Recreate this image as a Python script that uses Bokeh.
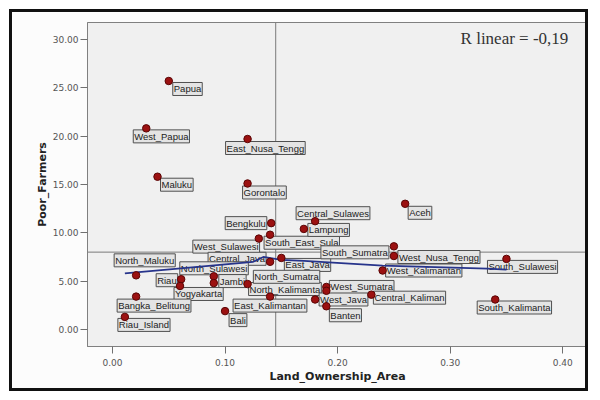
from bokeh.plotting import figure
from bokeh.models import Span, Label, FixedTicker, PrintfTickFormatter, Range1d
from bokeh.embed import file_html
from bokeh.resources import INLINE

# ---- data ----
provinces = [
    "Papua", "West_Papua", "East_Nusa_Tengg", "Maluku", "Gorontalo",
    "Bengkulu", "West_Sulawesi", "South_East_Sula", "Central_Java", "North_Maluku",
    "Riau", "Yogyakarta", "North_Sulawesi", "Jambi", "North_Kalimanta",
    "East_Kalimantan", "Bangka_Belitung", "Riau_Island", "Bali", "Central_Sulawes",
    "Lampung", "Aceh", "East_Java", "South_Sumatra", "West_Nusa_Tengg",
    "South_Sulawesi", "West_Kalimantan", "West_Sumatra", "North_Sumatra", "West_Java",
    "Banten", "Central_Kaliman", "South_Kalimanta",
]
land_ownership_area = [
    0.050, 0.030, 0.120, 0.040, 0.120,
    0.141, 0.130, 0.140, 0.140, 0.021,
    0.061, 0.060, 0.090, 0.090, 0.120,
    0.140, 0.021, 0.011, 0.100, 0.180,
    0.170, 0.260, 0.150, 0.250, 0.250,
    0.350, 0.240, 0.190, 0.190, 0.180,
    0.190, 0.230, 0.340,
]
poor_farmers = [
    25.7, 20.8, 19.7, 15.8, 15.1,
    11.0, 9.4, 9.8, 7.0, 5.6,
    5.2, 4.5, 5.5, 4.8, 4.7,
    3.4, 3.4, 1.3, 1.9, 11.2,
    10.4, 13.0, 7.4, 8.6, 7.6,
    7.3, 6.1, 4.4, 4.0, 3.1,
    2.4, 3.6, 3.1,
]
fit_x = [0.011, 0.078, 0.125, 0.134, 0.150, 0.170, 0.240, 0.333, 0.350]
fit_y = [5.8, 6.5, 7.0, 7.5, 7.2, 7.1, 6.6, 6.3, 6.2]
x_ticks = [0.0, 0.1, 0.2, 0.3, 0.4]
y_ticks = [0, 5, 10, 15, 20, 25, 30]
mean_land = 0.145
mean_poor = 8.0
r_linear_text = "R linear = -0,19"

# label placement (pixel offsets from each point)
label_dx = [4, -13, -22, 3, -5, -46, -66, -6, -62, -22, -25, -6, -34, 5, 1,
            -37, -19, -7, 4, -19, 4, 3, 3, -73, 4, -19, 3, 3, -73, 4, 3, 2, -18]
label_dy = [-8, -8, -9, -8, -9, 0, -8, -8, 3, 15, -1, -8, 8, 2, -5,
            -9, -9, -8, -9, 8, -1, -9, -7, -6, -1, -8, 0, 0, 14, 0, -9, -3, -8]

p = figure(width=579, height=382, output_backend="svg", toolbar_location=None,
           x_range=Range1d(-0.0222, 0.422), y_range=Range1d(-1.76, 31.75),
           min_border_left=75, min_border_right=4, min_border_top=10,
           min_border_bottom=48)
p.styles = {"border": "3px solid #111111", "margin-left": "9px", "margin-top": "9px"}
p.background_fill_color = "#f0f0f0"
p.border_fill_color = "#fcfcfc"
p.outline_line_color = "#808080"
p.outline_line_width = 1
p.xgrid.visible = False
p.ygrid.visible = False

for ax in (p.xaxis[0], p.yaxis[0]):
    ax.axis_line_color = "#808080"
    ax.major_tick_line_color = "#707070"
    ax.minor_tick_line_color = None
    ax.major_tick_in = 0
    ax.major_tick_out = 7
    ax.major_label_text_font = "DejaVu Sans"
    ax.major_label_text_font_size = "9px"
    ax.major_label_text_color = "#555555"
    ax.axis_label_text_font = "DejaVu Sans"
    ax.axis_label_text_font_size = "11px"
    ax.axis_label_text_font_style = "bold"
    ax.axis_label_text_color = "#222222"
    ax.formatter = PrintfTickFormatter(format="%.2f")

p.xaxis[0].ticker = FixedTicker(ticks=x_ticks)
p.yaxis[0].ticker = FixedTicker(ticks=y_ticks)
p.xaxis[0].axis_label = "Land_Ownership_Area"
p.yaxis[0].axis_label = "Poor_Farmers"
p.xaxis[0].major_label_standoff = 5
p.xaxis[0].axis_label_standoff = 1
p.yaxis[0].major_label_standoff = 2
p.yaxis[0].axis_label_standoff = 1

p.add_layout(Span(location=mean_land, dimension="height", line_color="#7a7a7a",
                  line_width=1, level="underlay"))
p.add_layout(Span(location=mean_poor, dimension="width", line_color="#7a7a7a",
                  line_width=1, level="underlay"))

lab_props = Label.properties()
for name, lx, ly, dx, dy in zip(provinces, land_ownership_area, poor_farmers,
                                label_dx, label_dy):
    kw = dict(x=lx, y=ly, x_offset=dx, y_offset=dy, text=name,
              text_font="Liberation Sans", text_font_size="9.5px",
              text_color="#222222", text_align="left", text_baseline="middle",
              background_fill_color="#e4e4e4", border_line_color="#505050",
              border_line_width=1, level="underlay")
    if "padding" in lab_props:
        kw["padding"] = 1
    p.add_layout(Label(**kw))

p.line(fit_x, fit_y, line_color="#27348b", line_width=1.8)
p.scatter(land_ownership_area, poor_farmers, size=7.5, fill_color="#9b1111",
          line_color="#5a0505", line_width=1)

p.add_layout(Label(x=0.405, y=30.1, text=r_linear_text, text_font="Liberation Serif",
                   text_font_size="17px", text_color="#333333", text_align="right",
                   text_baseline="middle"))

open("out.html", "w").write(file_html(p, INLINE))
